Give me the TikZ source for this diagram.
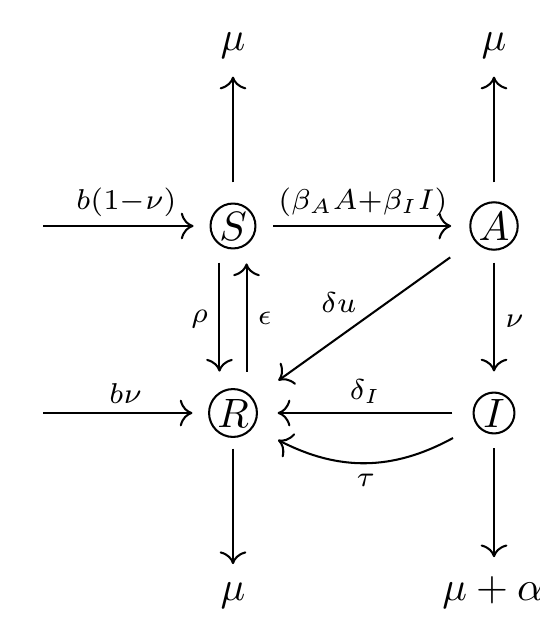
\documentclass[tikz,border=0pt]{standalone}
\usetikzlibrary{cd,calc}
\tikzset{
  st/.style={draw, circle, inner sep=0.5pt, line width=0.5pt},
  outlab/.style={inner sep=0pt, anchor=base},
  arr/.style={-{cm to}, line width=0.5pt},
  labA/.style={midway, above, inner sep=2pt},
  labL/.style={midway, left, inner sep=2.5pt},
  labR/.style={midway, right, inner sep=2.5pt},
}
\begin{document}
\begin{tikzpicture}[x=0.2439pt, y=-0.2439pt]
\useasboundingbox (0,0) rectangle (540,630);
% states
\node[st] (S) at (233,226) {$S$};
\node[st] (A) at (494,226) {$A$};
\node[st] (R) at (233,413) {$R$};
\node[st] (I) at (494,413) {$I$};
% outflow labels
\node[outlab] (muS) at (233,51) {$\mu$};
\node[outlab] (muA) at (494,51) {$\mu$};
\node[outlab] (muR) at (233,600) {$\mu$};
\node[outlab] (muI) at (493,600) {$\mu+\alpha$};
% free ends
\coordinate (inS) at (43,226);
\coordinate (inR) at (43,413);
% inflows
\draw[arr, shorten >=3.9pt] (inS) -- (S) node[labA] {$\scriptstyle b(1-\nu)$};
\draw[arr, shorten >=3.8pt] (inR) -- (R) node[labA] {$\scriptstyle b\nu$};
% S -> A
\draw[arr, shorten <=4.1pt, shorten >=4.4pt] (S) -- (A) node[labA] {$\scriptstyle (\beta_A A+\beta_I I)$};
% deaths
\draw[arr, shorten <=4.9pt, shorten >=4.1pt] (S) -- (muS);
\draw[arr, shorten <=4.6pt, shorten >=4.1pt] (A) -- (muA);
\draw[arr, shorten <=2.6pt, shorten >=4.25pt] (R) -- (muR);
\draw[arr, shorten <=3.4pt, shorten >=4.4pt] (I) -- (I |- muI.north);
% S <-> R
\draw[arr, shorten <=3.2pt, shorten >=4pt] ([xshift=-3.3pt]S.south) -- ([xshift=-3.3pt]R.north) node[labL] {$\scriptstyle \rho$};
\draw[arr, shorten <=4pt, shorten >=3.4pt] ([xshift=3.3pt]R.north) -- ([xshift=3.3pt]S.south) node[labR] {$\scriptstyle \epsilon$};
% A -> I
\draw[arr, shorten <=2.9pt, shorten >=4.9pt] (A) -- (I) node[labR] {$\scriptstyle \nu$};
% A -> R
\draw[arr, shorten <=7.1pt, shorten >=7.5pt] (A) -- (R) node[midway, above left, inner sep=1.5pt] {$\scriptstyle \delta u$};
% I -> R
\draw[arr, shorten <=4.9pt, shorten >=4.8pt] (I) -- (R) node[labA] {$\scriptstyle \delta_I$};
% I -> R curved
\draw[arr] ($(I)+(-41,25)$) to[bend left=28] node[midway, below, inner sep=2.5pt] {$\scriptstyle \tau$} ($(R)+(45,27)$);
\end{tikzpicture}
\end{document}
